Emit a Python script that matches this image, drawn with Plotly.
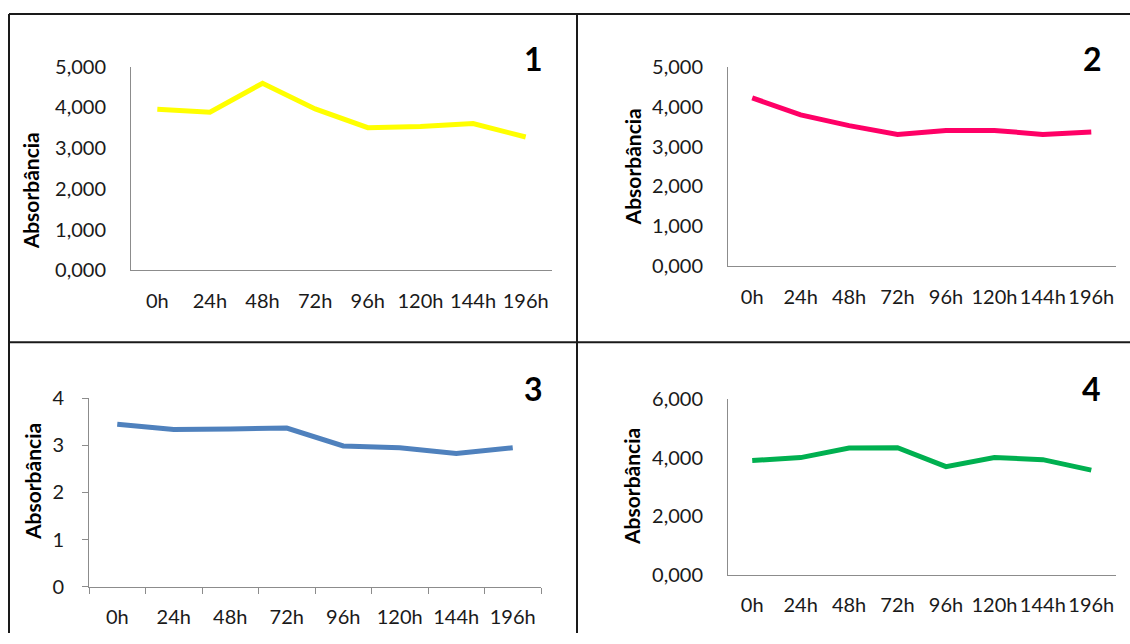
import plotly.graph_objects as go

W, H = 1130, 644

categories = ["0h", "24h", "48h", "72h", "96h", "120h", "144h", "196h"]
series1 = [3.95, 3.88, 4.59, 3.96, 3.50, 3.53, 3.60, 3.27]
series2 = [4.23, 3.80, 3.53, 3.31, 3.41, 3.41, 3.31, 3.37]
series3 = [3.45, 3.34, 3.35, 3.37, 2.99, 2.95, 2.83, 2.95]
series4 = [3.91, 4.01, 4.34, 4.35, 3.70, 4.01, 3.94, 3.58]
panel_labels = ["1", "2", "3", "4"]
y_title = "Absorbância"
colors = ["#FFFF00", "#FF0066", "#4F81BD", "#00B050"]

FONT = "Lato"
TXT = "#1a1a1a"
AXC = "#8c8c8c"
TICKSIZE = 20

# vertical compensation for the capture
SY, OY = 0.964, 12.4

def cy(t):
    return max(0.0, (t - OY) / SY)

def px_x(a, b):
    return [a / W, b / W]

def px_y(top, bottom):
    return [1 - cy(bottom) / H, 1 - cy(top) / H]

panels = [
    dict(s=series1, xd=(131, 552), yd=(66, 270), rng=5, dtick=1, fmt=".3f", ticks=False,
         xs=13, tx=30, ty=191, lx=533, ly=58),
    dict(s=series2, xd=(728, 1115.5), yd=(66.7, 265.7), rng=5, dtick=1, fmt=".3f", ticks=False,
         xs=13, tx=632, ty=167, lx=1092, ly=58),
    dict(s=series3, xd=(89, 541), yd=(398.3, 586.7), rng=4, dtick=1, fmt="d", ticks=True,
         xs=12, tx=33, ty=482, lx=533, ly=388),
    dict(s=series4, xd=(728, 1115.5), yd=(399.3, 575), rng=6, dtick=2, fmt=".3f", ticks=False,
         xs=12, tx=632, ty=487, lx=1091, ly=388),
]

fig = go.Figure()
layout = dict(
    width=W, height=H, margin=dict(l=0, r=0, t=0, b=0),
    paper_bgcolor="white", plot_bgcolor="white", showlegend=False,
    separators=",.", font=dict(family=FONT, size=TICKSIZE, color=TXT),
)
annotations = []
for i, p in enumerate(panels):
    k = "" if i == 0 else str(i + 1)
    fig.add_trace(go.Scatter(
        x=categories, y=p["s"], mode="lines",
        line=dict(color=colors[i], width=5),
        xaxis="x" + k, yaxis="y" + k, hoverinfo="skip",
    ))
    layout["xaxis" + k] = dict(
        domain=px_x(*p["xd"]), anchor="y" + k, type="category",
        range=[-0.5, 7.5], showgrid=False, zeroline=False,
        showline=True, linecolor=AXC, linewidth=1,
        ticks="outside" if p["ticks"] else "", tickson="boundaries",
        ticklen=6, tickcolor=AXC,
        ticklabelstandoff=p["xs"],
        tickfont=dict(family=FONT, size=TICKSIZE, color=TXT),
    )
    layout["yaxis" + k] = dict(
        domain=px_y(*p["yd"]), anchor="x" + k,
        range=[0, p["rng"]], dtick=p["dtick"], tick0=0, tickformat=p["fmt"],
        showgrid=False, zeroline=False,
        showline=True, linecolor=AXC, linewidth=1,
        ticks="outside" if p["ticks"] else "", ticklen=6, tickcolor=AXC,
        ticklabelstandoff=14 if p["ticks"] else 20,
        tickfont=dict(family=FONT, size=TICKSIZE, color=TXT),
    )
    annotations.append(dict(
        text="<b>" + y_title + "</b>", textangle=-90, showarrow=False,
        x=p["tx"] / W, y=1 - cy(p["ty"]) / H, xref="paper", yref="paper",
        xanchor="center", yanchor="middle",
        font=dict(family=FONT, size=21, color="#000000"),
    ))
    annotations.append(dict(
        text="<b>" + panel_labels[i] + "</b>", showarrow=False,
        x=p["lx"] / W, y=1 - cy(p["ly"]) / H, xref="paper", yref="paper",
        xanchor="center", yanchor="middle",
        font=dict(family=FONT, size=32, color="#000000"),
    ))

layout["annotations"] = annotations
bc = "#1a1a1a"
top = 1 - max(1.0, cy(12)) / H
mid = 1 - cy(342) / H
layout["shapes"] = [
    dict(type="line", xref="paper", yref="paper", x0=9 / W, x1=1, y0=top, y1=top,
         line=dict(color=bc, width=2)),
    dict(type="line", xref="paper", yref="paper", x0=9 / W, x1=1, y0=mid, y1=mid,
         line=dict(color=bc, width=2)),
    dict(type="line", xref="paper", yref="paper", x0=9 / W, x1=9 / W, y0=0, y1=top,
         line=dict(color=bc, width=2)),
    dict(type="line", xref="paper", yref="paper", x0=577 / W, x1=577 / W, y0=0, y1=top,
         line=dict(color=bc, width=2)),
]
fig.update_layout(**layout)
fig.write_html(
    "out.html",
    config={"displayModeBar": False},
    post_script="document.body.style.margin='0';document.body.style.overflow='hidden';",
)
